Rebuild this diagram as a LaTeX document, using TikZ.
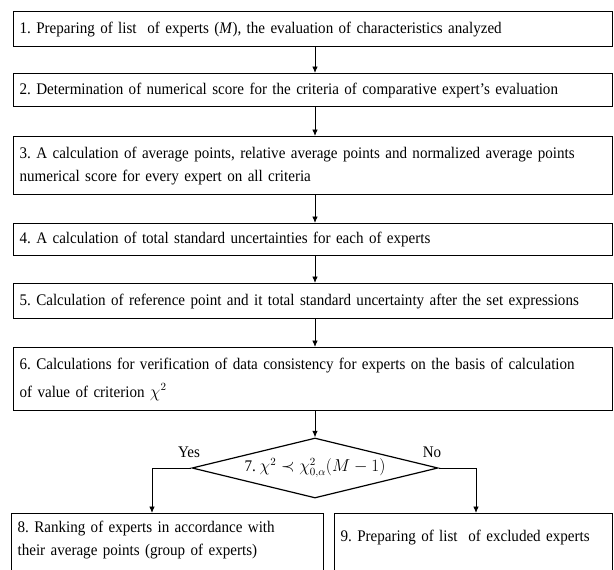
\documentclass[tikz,border=0pt]{standalone}
\usepackage{fontspec}
\setmainfont{Liberation Serif}[FakeStretch=0.93]
\usetikzlibrary{arrows.meta,shapes.geometric,calc}
\begin{document}
\frenchspacing
\begin{tikzpicture}[x=1pt,y=-1pt,
  box/.style={draw=black, line width=1.2pt, anchor=north west, align=left,
    inner xsep=6pt, inner ysep=0pt, font=\fontsize{16.2}{23}\selectfont},
  arr/.style={-{Latex[length=6.5pt,width=5.5pt]}, line width=0.9pt},
  decision/.style={draw=black, line width=1.2pt, diamond, inner sep=0pt,
    minimum width=246pt, minimum height=60pt, aspect=4.1, font=\fontsize{16.2}{18}\selectfont},
  lbl/.style={font=\fontsize{16.2}{18}\selectfont, inner sep=1pt}
]
\useasboundingbox (0,0) rectangle (614,570);
\node[box, text width=587pt, minimum height=35pt] (b1) at (13,11)
  {1. Preparing of list \ of experts (\textit{M}), the evaluation of characteristics analyzed};
\node[box, text width=587pt, minimum height=33pt] (b2) at (13,73)
  {2. Determination of numerical score for the criteria of comparative expert’s evaluation};
\node[box, text width=587pt, minimum height=58pt] (b3) at (13,136)
  {3. A calculation of average points, relative average points and normalized average points\\numerical score for every expert on all criteria};
\node[box, text width=587pt, minimum height=32pt] (b4) at (13,223)
  {4. A calculation of total standard uncertainties for each of experts};
\node[box, text width=587pt, minimum height=35pt] (b5) at (13,283)
  {5. Calculation of reference point and it total standard uncertainty after the set expressions};
\node[box, text width=587pt, minimum height=63pt] (b6) at (13,347)
  {6. Calculations for verification of data consistency for experts on the basis of calculation\\[5pt]of value of criterion $\chi^2$};
\node[decision] (d) at (315,468)
  {\raisebox{3pt}{7. $\chi^2\prec\chi^2_{0,\alpha}\Bigl(M-1\Bigr)$}};
\node[box, text width=300pt, minimum height=62pt] (b8) at (11,513)
  {\raisebox{4pt}[11pt][4pt]{8. Ranking of experts in accordance with}\\\raisebox{4pt}[11pt][4pt]{their average points (group of experts)}};
\node[box, text width=266pt, minimum height=62pt] (b9) at (334,513)
  {\raisebox{7pt}[11pt][4pt]{9. Preparing of list \ of excluded experts}};
\node[lbl] (yes) at (189,452) {Yes};
\node[lbl] (no) at (432,452) {No};
\coordinate (yesend) at (152,513);
\coordinate (noend) at (476,513);
\draw[arr] (b1.south -| d.north) -- (b2.north -| d.north);
\draw[arr] (b2.south -| d.north) -- (b3.north -| d.north);
\draw[arr] (b3.south -| d.north) -- (b4.north -| d.north);
\draw[arr] (b4.south -| d.north) -- (b5.north -| d.north);
\draw[arr] (b5.south -| d.north) -- (b6.north -| d.north);
\draw[arr] (b6.south -| d.north) -- (d.north);
\draw[arr] (d.west) -| (yesend);
\draw[arr] (d.east) -| (noend);
\end{tikzpicture}
\end{document}
